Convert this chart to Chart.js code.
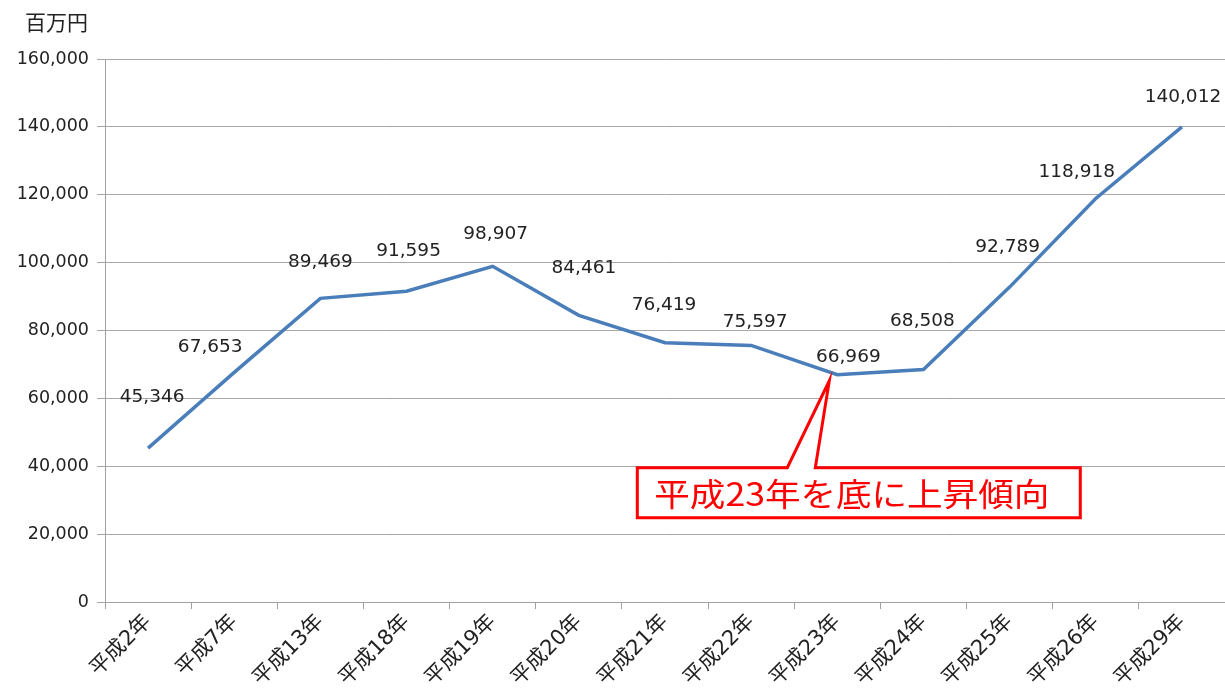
<!DOCTYPE html>
<html>
<head>
<meta charset="utf-8">
<script src="https://cdn.jsdelivr.net/npm/chart.js@4/dist/chart.umd.min.js"></script>
<style>
  body { margin: 0; background: #fff; }
  #wrap { width: 1225px; height: 691px; position: relative; }
</style>
</head>
<body>
<div id="wrap"><canvas id="myChart"></canvas></div>
<script>
const labels = ["平成2年", "平成7年", "平成13年", "平成18年", "平成19年", "平成20年", "平成21年",
  "平成22年", "平成23年", "平成24年", "平成25年", "平成26年", "平成29年"];
const values = [45346, 67653, 89469, 91595, 98907, 84461, 76419, 75597, 66969, 68508, 92789, 118918, 140012];
const yTicks = [0, 20000, 40000, 60000, 80000, 100000, 120000, 140000, 160000];
const unitLabel = "百万円";
const noteText = "平成23年を底に上昇傾向";
const noteIndex = 8;

// where each value label sits relative to its point (layout only)
const labelShift = [[4, -51], [-24, -25], [0, -36], [2, -40], [3, -32], [5, -47], [-1, -37],
  [4, -23], [11, -18], [-1, -48], [-2, -40], [-19, -26], [1, -30]];

const FONT = "'DejaVu Sans', 'Noto Sans CJK JP', sans-serif";
const CJK = "'Noto Sans CJK JP', sans-serif";

// value labels + the unit title
const labelPlugin = {
  id: "valueLabels",
  afterDatasetsDraw(chart) {
    const c = chart.ctx;
    const meta = chart.getDatasetMeta(0);
    c.save();
    c.font = "18.5px " + FONT;
    c.fillStyle = "#222";
    c.textAlign = "center";
    c.textBaseline = "middle";
    meta.data.forEach((pt, i) => {
      const s = labelShift[i];
      c.fillText(values[i].toLocaleString("en-US"), pt.x + s[0], pt.y + s[1]);
    });
    c.textAlign = "left";
    c.font = "21px " + CJK;
    c.fillText(unitLabel, 25, 22);
    c.restore();
  }
};

// red callout box pointing at 平成23年
const notePlugin = {
  id: "note",
  afterDraw(chart) {
    const c = chart.ctx;
    const pt = chart.getDatasetMeta(0).data[noteIndex];
    const tx = pt.x - 8, ty = pt.y + 6;
    const left = tx - 192, top = ty + 87, right = left + 443, bottom = top + 50;
    c.save();
    c.beginPath();
    c.moveTo(left, top);
    c.lineTo(left + 150, top);
    c.lineTo(tx, ty);
    c.lineTo(left + 178, top);
    c.lineTo(right, top);
    c.lineTo(right, bottom);
    c.lineTo(left, bottom);
    c.closePath();
    c.fillStyle = "#fff";
    c.fill();
    c.strokeStyle = "#ff0000";
    c.lineWidth = 3;
    c.stroke();
    c.fillStyle = "#ff0000";
    c.font = "32px " + CJK;
    c.textBaseline = "middle";
    const w = c.measureText(noteText).width;
    const sx = 395 / w;
    c.translate(left + 17, top + 26);
    c.scale(sx, 1);
    c.fillText(noteText, 0, 0);
    c.restore();
  }
};

const ctx = document.getElementById("myChart").getContext("2d");
const myChart = new Chart(ctx, {
  type: "line",
  data: {
    labels,
    datasets: [{
      data: values,
      borderColor: "#4a7ebb",
      borderWidth: 3.5,
      pointRadius: 0,
      tension: 0,
      fill: false
    }]
  },
  options: {
    responsive: true,
    maintainAspectRatio: false,
    animation: false,
    layout: { padding: { top: 59, right: 0, left: 0, bottom: 0 } },
    plugins: { legend: { display: false }, tooltip: { enabled: false } },
    scales: {
      x: {
        offset: true,
        afterFit: (s) => { s.height = 89; },
        grid: {
          offset: true,
          drawOnChartArea: false,
          color: "#a0a0a0",
          tickLength: 7
        },
        border: { color: "#a0a0a0", width: 1 },
        ticks: {
          maxRotation: 45,
          minRotation: 45,
          color: "#222",
          font: { family: FONT, size: 21 },
          padding: 1
        }
      },
      y: {
        min: 0,
        max: 160000,
        afterFit: (s) => { s.width = 105; },
        afterBuildTicks: (s) => { s.ticks = yTicks.map(v => ({ value: v })); },
        grid: { color: "#a8a8a8", tickLength: 8 },
        border: { color: "#a0a0a0", width: 1 },
        ticks: {
          color: "#222",
          font: { family: FONT, size: 17.5 },
          padding: 8,
          callback: (v) => v.toLocaleString("en-US")
        }
      }
    }
  },
  plugins: [labelPlugin, notePlugin]
});
</script>
</body>
</html>
